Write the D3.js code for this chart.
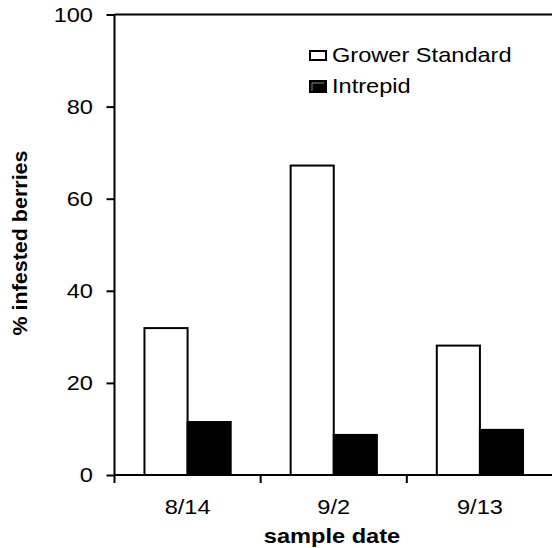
<!DOCTYPE html>
<html><head><meta charset="utf-8">
<script src="https://cdn.jsdelivr.net/npm/d3@7"></script>
<style>body{margin:0;background:#fff}svg{display:block}</style>
</head><body>
<script>
const categories = ["8/14", "9/2", "9/13"];
const growerStandard = [31.9, 67.2, 28.1];
const intrepid = [11.5, 8.7, 9.8];
const seriesNames = ["Grower Standard", "Intrepid"];
const yTicks = [0, 20, 40, 60, 80, 100];

const W = 552, H = 548;
const m = {left: 114.5, right: 553, top: 14.5, bottom: 475};
const SX = 1.18;
const font = "Liberation Sans, Arial, sans-serif";

const svg = d3.select("body").append("svg").attr("width", W).attr("height", H)
  .style("font-family", font);

const x = d3.scaleBand().domain(categories).range([m.left, m.right]).padding(0);
const bw = x.bandwidth();
const xs = d3.scaleBand().domain(seriesNames).range([bw * 0.205, bw * 0.795]).padding(0);
const y = d3.scaleLinear().domain([0, 100]).range([m.bottom, m.top]);

const data = categories.map((c, i) => ({c, vals: [growerStandard[i], intrepid[i]]}));

// bars
const g = svg.append("g");
data.forEach(d => {
  d.vals.forEach((v, j) => {
    g.append("rect")
      .attr("x", x(d.c) + xs(seriesNames[j]))
      .attr("y", y(v))
      .attr("width", xs.bandwidth())
      .attr("height", y(0) - y(v))
      .attr("fill", j === 0 ? "#fff" : "#000")
      .attr("stroke", "#000").attr("stroke-width", 2);
  });
});

// frame (top)
svg.append("line").attr("x1", m.left).attr("x2", m.right).attr("y1", m.top).attr("y2", m.top)
  .attr("stroke", "#000").attr("stroke-width", 2);

// y axis
const ya = svg.append("g").attr("transform", `translate(${m.left},0)`)
  .call(d3.axisLeft(y).tickValues(yTicks).tickSize(8).tickFormat(""));
ya.selectAll("path,line").attr("stroke", "#000").attr("stroke-width", 2);
ya.select(".domain").attr("d", `M0,${m.top}V${m.bottom}`);
yTicks.forEach(t => {
  svg.append("text").attr("transform", `translate(93,${y(t) + 7}) scale(${SX},1)`)
    .attr("text-anchor", "end").attr("font-size", 20).text(t);
});

// x axis
const xa = svg.append("g").attr("transform", `translate(0,${m.bottom})`)
  .call(d3.axisBottom(x).tickSize(0).tickFormat(""));
xa.select(".domain").attr("d", `M${m.left},0H${m.right}`).attr("stroke", "#000").attr("stroke-width", 2);
const bounds = categories.map(c => x(c)).concat([x(categories[categories.length - 1]) + bw]);
bounds.forEach(b => {
  svg.append("line").attr("x1", b).attr("x2", b).attr("y1", m.bottom).attr("y2", m.bottom + 8)
    .attr("stroke", "#000").attr("stroke-width", 2);
});
categories.forEach(c => {
  svg.append("text").attr("transform", `translate(${x(c) + bw / 2},514) scale(${SX},1)`)
    .attr("text-anchor", "middle").attr("font-size", 20).text(c);
});

// axis titles
svg.append("text").attr("transform", `translate(332,543) scale(${SX},1)`)
  .attr("text-anchor", "middle").attr("font-size", 20).attr("font-weight", "bold").text("sample date");
svg.append("text").attr("transform", "translate(27,243) rotate(-90)")
  .attr("text-anchor", "middle").attr("font-size", 20).attr("font-weight", "bold")
  .attr("textLength", 185).attr("lengthAdjust", "spacingAndGlyphs")
  .text("% infested berries");

// legend
const lg = svg.append("g");
seriesNames.forEach((s, i) => {
  const yy = i === 0 ? 51 : 81;
  lg.append("rect").attr("x", 310).attr("y", yy).attr("width", 16).attr("height", i === 0 ? 9 : 11)
    .attr("fill", i === 0 ? "#fff" : "#000").attr("stroke", "#000").attr("stroke-width", 2);
  if (i === 1) {
    lg.append("path").attr("d", `M312,${yy + 10}V${yy + 2}H324`).attr("fill", "none")
      .attr("stroke", "#888").attr("stroke-width", 1);
  }
  lg.append("text").attr("transform", `translate(332,${i === 0 ? 62 : 93}) scale(${SX},1)`)
    .attr("font-size", 20).text(s);
});
</script>
</body></html>
